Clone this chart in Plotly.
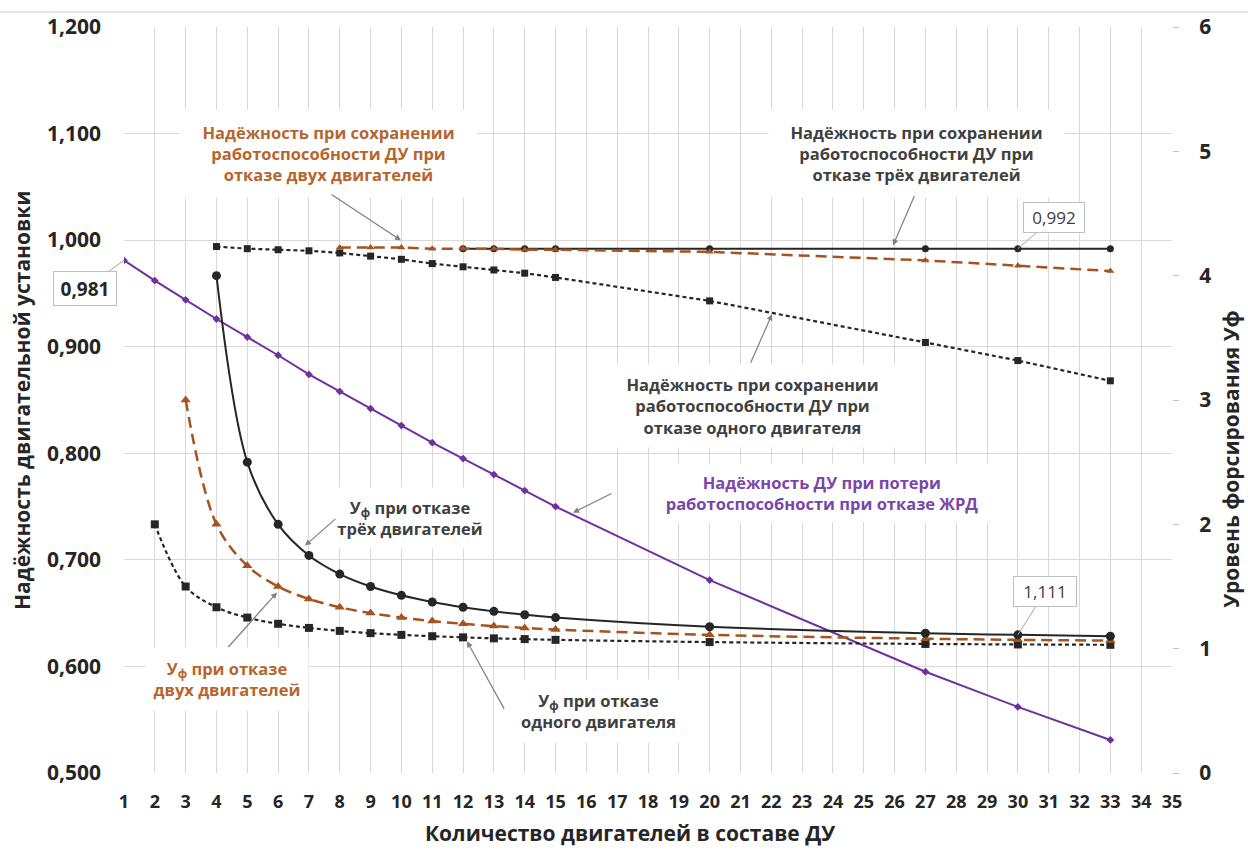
import plotly.graph_objects as go

# ---------------- data ----------------
x_fail = [1, 2, 3, 4, 5, 6, 7, 8, 9, 10, 11, 12, 13, 14, 15, 20, 27, 30, 33]
rel_fail = [0.981, 0.962, 0.944, 0.926, 0.909, 0.892, 0.874, 0.858, 0.842, 0.826,
            0.810, 0.795, 0.780, 0.765, 0.750, 0.681, 0.595, 0.562, 0.531]

x_rel_one = [4, 5, 6, 7, 8, 9, 10, 11, 12, 13, 14, 15, 20, 27, 30, 33]
rel_one = [0.994, 0.992, 0.991, 0.990, 0.988, 0.985, 0.982, 0.978, 0.975, 0.972,
           0.969, 0.965, 0.943, 0.904, 0.887, 0.868]

x_rel_two = [8, 9, 10, 11, 12, 13, 14, 15, 20, 27, 30, 33]
rel_two = [0.993, 0.993, 0.993, 0.992, 0.992, 0.992, 0.991, 0.991, 0.989, 0.981, 0.976, 0.971]

x_rel_three = [12, 13, 14, 15, 20, 27, 30, 33]
rel_three = [0.992, 0.992, 0.992, 0.992, 0.992, 0.992, 0.992, 0.992]

x_uf_one = [2, 3, 4, 5, 6, 7, 8, 9, 10, 11, 12, 13, 14, 15, 20, 27, 30, 33]
uf_one = [2.0, 1.5, 1.333, 1.25, 1.2, 1.167, 1.143, 1.125, 1.111, 1.1, 1.091, 1.083,
          1.077, 1.071, 1.053, 1.038, 1.034, 1.031]

x_uf_two = [3, 4, 5, 6, 7, 8, 9, 10, 11, 12, 13, 14, 15, 20, 27, 30, 33]
uf_two = [3.0, 2.0, 1.667, 1.5, 1.4, 1.333, 1.286, 1.25, 1.222, 1.2, 1.182, 1.167,
          1.154, 1.111, 1.08, 1.071, 1.065]

x_uf_three = [4, 5, 6, 7, 8, 9, 10, 11, 12, 13, 14, 15, 20, 27, 30, 33]
uf_three = [4.0, 2.5, 2.0, 1.75, 1.6, 1.5, 1.429, 1.375, 1.333, 1.3, 1.273, 1.25,
            1.176, 1.125, 1.111, 1.1]

left_ticks = [0.5, 0.6, 0.7, 0.8, 0.9, 1.0, 1.1, 1.2]
left_ticktext = ["0,500", "0,600", "0,700", "0,800", "0,900", "1,000", "1,100", "1,200"]
right_ticks = [0, 1, 2, 3, 4, 5, 6]

# ---------------- styles ----------------
FONT = "Open Sans"
DARK = "#262626"
TXT = "#404040"
BROWN = "#A5531F"
BROWN_T = "#B5652D"
PURPLE = "#7030A0"
PURPLE_T = "#7A45AC"
GRID = "#d9d9d9"
ARROW = "#7f7f7f"

W, H = 1248, 850
L, R, T, B = 124, 76, 25, 77
PW, PH = W - L - R, H - T - B


def px(x):
    return (x - L) / PW


def py(y):
    return (H - B - y) / PH


fig = go.Figure()

# right-axis (Уф) curves
fig.add_trace(go.Scatter(x=x_uf_one, y=uf_one, yaxis="y2", mode="lines+markers",
                         line=dict(color=DARK, width=2.2, dash="4px,3px", shape="spline"),
                         marker=dict(symbol="square", size=8, color=DARK)))
fig.add_trace(go.Scatter(x=x_uf_two, y=uf_two, yaxis="y2", mode="lines+markers",
                         line=dict(color=BROWN, width=2.5, dash="11px,6px", shape="spline"),
                         marker=dict(symbol="triangle-up", size=9, color=BROWN)))
fig.add_trace(go.Scatter(x=x_uf_three, y=uf_three, yaxis="y2", mode="lines+markers",
                         line=dict(color=DARK, width=2, shape="spline"),
                         marker=dict(symbol="circle", size=9, color=DARK)))

# left-axis reliability curves
fig.add_trace(go.Scatter(x=x_rel_one, y=rel_one, mode="lines+markers",
                         line=dict(color=DARK, width=2.2, dash="4px,3px"),
                         marker=dict(symbol="square", size=7, color=DARK)))
fig.add_trace(go.Scatter(x=x_rel_three, y=rel_three, mode="lines+markers",
                         line=dict(color=DARK, width=2),
                         marker=dict(symbol="circle", size=7, color=DARK)))
fig.add_trace(go.Scatter(x=x_rel_two, y=rel_two, mode="lines+markers",
                         line=dict(color=BROWN, width=2.5, dash="11px,6px"),
                         marker=dict(symbol="triangle-up", size=7, color=BROWN)))
fig.add_trace(go.Scatter(x=x_fail, y=rel_fail, mode="lines+markers",
                         line=dict(color=PURPLE, width=2),
                         marker=dict(symbol="diamond", size=6, color=PURPLE)))

annotations = []


def label(text, cx, cy, w, h, color, size=16.5, bold=True):
    annotations.append(dict(
        text=text, xref="paper", yref="paper", x=px(cx), y=py(cy),
        xanchor="center", yanchor="middle", showarrow=False, align="center",
        width=w, height=h, bgcolor="white",
        font=dict(family=FONT, size=size, color=color, weight="bold" if bold else "normal")))


def arrow(hx, hy, tx, ty):
    annotations.append(dict(
        text="", xref="paper", yref="paper", x=px(hx), y=py(hy),
        ax=tx - hx, ay=ty - hy, showarrow=True, arrowhead=2, arrowsize=1,
        arrowwidth=1.2, arrowcolor=ARROW, standoff=0))


label("Надёжность при сохранении<br>работоспособности ДУ при<br>отказе двух двигателей",
      328, 152, 295, 85, BROWN_T)
label("Надёжность при сохранении<br>работоспособности ДУ при<br>отказе трёх двигателей",
      916, 152, 293, 85, TXT)
label("Надёжность при сохранении<br>работоспособности ДУ при<br>отказе одного двигателя",
      752, 405, 295, 80, TXT)
label("Надёжность ДУ при потери<br>работоспособности при отказе ЖРД",
      822, 492, 340, 56, PURPLE_T)
label("У<sub>ф</sub> при отказе<br>трёх двигателей", 410, 517, 150, 58, TXT)
label("У<sub>ф</sub> при отказе<br>двух двигателей", 227, 679, 160, 60, BROWN_T)
label("У<sub>ф</sub> при отказе<br>одного двигателя", 598, 711, 175, 60, TXT)

arrow(401, 239, 330, 192)
arrow(893, 244, 915, 193)
arrow(772, 313, 750, 363)
arrow(573, 512, 613, 492)
arrow(305, 545, 337, 517)
arrow(277, 592, 227, 648)
arrow(467, 641, 505, 710)

# value callouts
annotations.append(dict(text="0,992", x=30, y=rel_three[6], xref="x", yref="y",
                        ax=36, ay=-31, showarrow=True, arrowhead=0, arrowwidth=1,
                        arrowcolor="#a6a6a6", bgcolor="white", bordercolor="#bfbfbf",
                        borderwidth=1, width=58, height=27,
                        font=dict(family=FONT, size=17, color=TXT)))
annotations.append(dict(text="1,111", x=30, y=uf_three[14], xref="x", yref="y2",
                        ax=27, ay=-43, showarrow=True, arrowhead=0, arrowwidth=1,
                        arrowcolor="#a6a6a6", bgcolor="white", bordercolor="#bfbfbf",
                        borderwidth=1, width=60, height=27,
                        font=dict(family=FONT, size=17, color=TXT)))
annotations.append(dict(text="0,981", x=1, y=rel_fail[0], xref="x", yref="y",
                        ax=-39, ay=28, showarrow=True, arrowhead=0, arrowwidth=1,
                        arrowcolor="#a6a6a6", bgcolor="white", bordercolor="#bfbfbf",
                        borderwidth=1, width=60, height=31,
                        font=dict(family=FONT, size=19, color=DARK, weight="bold")))

# axis titles
annotations.append(dict(text="Количество двигателей в составе ДУ", xref="paper", yref="paper",
                        x=px(630), y=py(833), showarrow=False, xanchor="center", yanchor="middle",
                        font=dict(family=FONT, size=21, color=DARK, weight="bold")))
annotations.append(dict(text="Надёжность двигательной установки", xref="paper", yref="paper",
                        x=px(22), y=py(400), showarrow=False, textangle=-90,
                        xanchor="center", yanchor="middle",
                        font=dict(family=FONT, size=21, color=DARK, weight="bold")))
annotations.append(dict(text="Уровень форсирования Уф", xref="paper", yref="paper",
                        x=px(1231), y=py(458), showarrow=False, textangle=-90,
                        xanchor="center", yanchor="middle",
                        font=dict(family=FONT, size=21, color=DARK, weight="bold")))

fig.update_layout(
    width=W, height=H,
    margin=dict(l=L, r=R, t=T, b=B),
    paper_bgcolor="white", plot_bgcolor="white",
    showlegend=False,
    font=dict(family=FONT, color=DARK),
    annotations=annotations,
    shapes=[dict(type="line", xref="paper", yref="paper", x0=px(0), x1=px(W),
                 y0=py(10), y1=py(10), line=dict(color="#d0d0d0", width=1))],
    xaxis=dict(range=[1, 35], tick0=1, dtick=1, showgrid=True, gridcolor=GRID, gridwidth=1,
               zeroline=False, showline=False, ticks="",
               tickfont=dict(family=FONT, size=18, color=DARK, weight="bold"),
               ticklabelstandoff=16),
    yaxis=dict(range=[0.5, 1.2], tickvals=left_ticks, ticktext=left_ticktext,
               showgrid=True, gridcolor=GRID, gridwidth=1, zeroline=False, showline=False,
               ticks="", tickfont=dict(family=FONT, size=21, color=DARK, weight="bold"),
               ticklabelstandoff=22),
    yaxis2=dict(range=[0, 6], tickvals=right_ticks, overlaying="y", side="right",
                showgrid=False, zeroline=False, showline=False, ticks="outside",
                ticklen=6, tickcolor="#bfbfbf",
                tickfont=dict(family=FONT, size=21, color=DARK, weight="bold"),
                ticklabelstandoff=16),
)

fig.write_html("out.html", config={"displayModeBar": False})

# remove the default page margin so the figure sits at the window's top-left corner
with open("out.html", "r", encoding="utf-8") as f:
    html = f.read()
html = html.replace("<head>", "<head><style>html,body{margin:0;padding:0;overflow:hidden;}</style>", 1)
with open("out.html", "w", encoding="utf-8") as f:
    f.write(html)
